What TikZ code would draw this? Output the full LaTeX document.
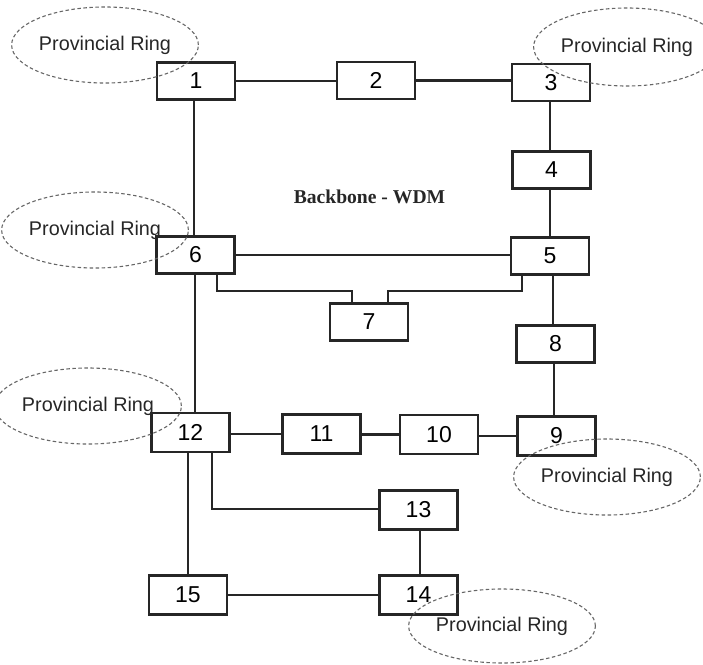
\documentclass[tikz,border=0pt]{standalone}
\usepackage{fontspec}
\setmainfont{Liberation Sans}
\newfontfamily\titlefont{Liberation Serif}
\usetikzlibrary{shapes.geometric}

\tikzset{
  ink/.style={draw=black!85},
  nodebox/.style={ink, line width=2.8pt, rectangle, minimum width=78pt,
    minimum height=37pt, inner sep=0pt,
    font=\fontsize{23}{27}\selectfont},
  tallbox/.style={nodebox, minimum height=39pt},
  link/.style={ink, line width=2.2pt},
  ring/.style={ellipse, draw=black!60, dashed, dash pattern=on 3.5pt off 2.5pt,
    line width=1.1pt, minimum width=160pt, minimum height=76pt, inner sep=0pt,
    text=black!85, font=\fontsize{19.8}{24}\selectfont},
}

\begin{document}
\begin{tikzpicture}[x=1pt, y=-1pt]
  \useasboundingbox (0,0) rectangle (703,664);

  % backbone nodes
  \node[nodebox] (n1)  at (196,81)    {1};
  \node[nodebox] (n2)  at (376,80.5)  {2};
  \node[nodebox] (n3)  at (551,82.5)  {3};
  \node[nodebox] (n4)  at (551.5,170) {4};
  \node[nodebox] (n5)  at (550,256)   {5};
  \node[nodebox] (n6)  at (195.5,255) {6};
  \node[nodebox] (n7)  at (369,322)   {7};
  \node[nodebox] (n8)  at (555.5,344) {8};
  \node[tallbox] (n9)  at (556.5,436) {9};
  \node[tallbox] (n10) at (439,434.5) {10};
  \node[tallbox] (n11) at (321.5,434) {11};
  \node[tallbox] (n12) at (190.5,432.5) {12};
  \node[tallbox] (n13) at (418.5,510) {13};
  \node[tallbox] (n14) at (418.5,595) {14};
  \node[tallbox] (n15) at (188,595)   {15};

  % title
  \node[font=\titlefont\bfseries\fontsize{19.6}{24}\selectfont, text=black!85]
    (title) at (369.5,197) {Backbone - WDM};

  % links (kept exactly horizontal or vertical)
  \draw[link] (n1.east) -- (n1.east -| n2.west);
  \draw[link] (n2.east) -- (n2.east -| n3.west);
  \draw[link] ([xshift=-1pt]n3.south) -- ([xshift=-1pt]n3.south |- n4.north);
  \draw[link] ([xshift=-1.5pt]n4.south) -- ([xshift=-1.5pt]n4.south |- n5.north);
  \draw[link] ([xshift=-2pt]n1.south) -- ([xshift=-2pt]n1.south |- n6.north);
  \draw[link] (n6.east) -- (n6.east -| n5.west);
  \draw[link] ([xshift=21.5pt]n6.south) -- ++(0,16) -| ([xshift=-17pt]n7.north);
  \draw[link] ([xshift=-28pt]n5.south) -- ++(0,15) -| ([xshift=19pt]n7.north);
  \draw[link] ([xshift=3pt]n5.south) -- ([xshift=3pt]n5.south |- n8.north);
  \draw[link] ([xshift=-1.5pt]n8.south) -- ([xshift=-1.5pt]n8.south |- n9.north);
  \draw[link] (n9.west) -- (n9.west -| n10.east);
  \draw[link] (n10.west) -- (n10.west -| n11.east);
  \draw[link] (n11.west) -- (n11.west -| n12.east);
  \draw[link] ([xshift=4.5pt]n12.north |- n6.south) -- ([xshift=4.5pt]n12.north);
  \draw[link] (n15.north |- n12.south) -- (n15.north);
  \draw[link] ([xshift=21.5pt]n12.south) |- ([yshift=1pt]n13.west);
  \draw[link] ([xshift=1.5pt]n13.south) -- ([xshift=1.5pt]n14.north);
  \draw[link] (n15.east) -- (n15.east -| n14.west);

  % provincial rings
  \node[ring] (r1)  at (105,45)  {Provincial Ring};
  \node[ring, minimum width=154pt, minimum height=78pt] (r3) at (627,47) {Provincial Ring};
  \node[ring] (r6)  at (95,230)  {Provincial Ring};
  \node[ring] (r12) at (88,406)  {Provincial Ring};
  \node[ring, minimum width=162pt] (r9) at (607,477) {Provincial Ring};
  \node[ring, minimum height=74pt] (r14) at (502,626) {Provincial Ring};
\end{tikzpicture}
\end{document}
